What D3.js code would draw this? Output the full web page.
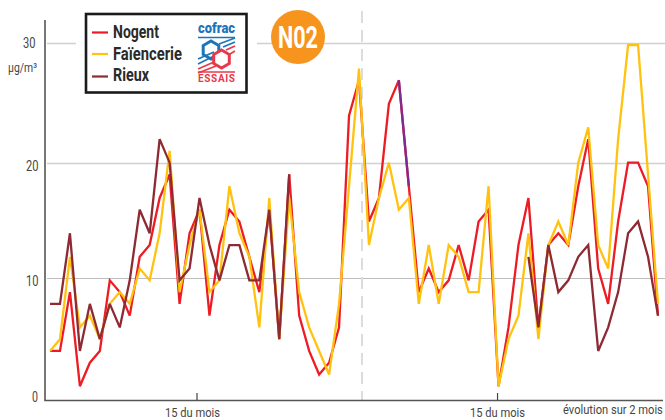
<!DOCTYPE html>
<html>
<head>
<meta charset="utf-8">
<script src="https://cdn.jsdelivr.net/npm/d3@7/dist/d3.min.js"></script>
<style>
html,body{margin:0;padding:0;background:#fff;}
svg{display:block;}
text{font-family:"Roboto","Liberation Sans",sans-serif;}
</style>
</head>
<body>
<svg id="chart" width="665" height="420"></svg>
<script>
const _ = null;
const nogent = [4,4,9,1,3,4,10,9,7,12, 13,17,19,8,14,16,7,13,16,15, 12,9,16,5,19,7,4,2,3,6, 24,27,15,17,25,27,18,9,11,9, 10,13,10,15,16,1,6,13,17,6, 13,14,13,18,22,11,8,15,20,20, 18,7];
const faiencerie = [4,5,12,6,7,5,8,9,8,11, 10,14,21,9,13,16,9,10,18,14, 12,6,17,5,17,9,6,4,2,8, 18,28,13,17,20,16,17,8,13,8, 13,12,9,9,18,1,5,7,14,5, 13,15,13,20,23,13,11,22,30,30, 19,8];
const rieux = [8,8,14,4,8,5,8,6,10,16, 14,22,20,10,11,17,13,10,13,13, 10,10,16,5,19,_,_,_,_,_, _,_,_,_,_,_,_,_,_,_, _,_,_,_,_,_,_,_,12,6, 13,9,10,12,13,4,6,9,14,15, 12,7];
const seriesNames = ["Nogent","Faïencerie","Rieux"];
const yTicks = [0,10,20,30];
const monthTicks = [14.75,44.9];
const monthLabel = "15 du mois";
const monthBreak = 31.3;
const purpleSpan = [35,36];

const RED="#ed1c24", YEL="#ffc20e", DRK="#8e2a33", PUR="#7f2a90", TXT="#454545";
const svg = d3.select("#chart");
const x = d3.scaleLinear().domain([0,61]).range([50,658]);
const y = d3.scaleLinear().domain([0,30]).range([398,45]);
const yRule = d3.scaleLinear().domain(yTicks).range([400.5,278.5,163.5,43.5]);

// condensed type: squeeze real text horizontally to a measured width
function label(str,px,py,w,size,fill,weight){
  const t = svg.append("text").attr("font-size",size).attr("fill",fill).attr("font-weight",weight||400).text(str);
  const n = t.node().getComputedTextLength();
  t.attr("transform",`translate(${px},${py}) scale(${w/n},1)`);
  return t;
}

// grid
yTicks.slice(1).forEach(t=>{
  svg.append("line").attr("x1",47).attr("x2",665).attr("y1",yRule(t)).attr("y2",yRule(t))
    .attr("stroke",t===10?"#bdbdbd":"#d0d0d0").attr("stroke-width",t===10?1.2:1.5);
});

// break
svg.append("line").attr("x1",x(monthBreak)).attr("x2",x(monthBreak)).attr("y1",11).attr("y2",400)
  .attr("stroke","#dcdcdc").attr("stroke-width",2).attr("stroke-dasharray","12,7");

// axes
svg.append("path").attr("d",`M45,20V400.5H663`).attr("fill","none").attr("stroke","#555").attr("stroke-width",1.6);
monthTicks.forEach((t,i)=>{
  svg.append("line").attr("x1",x(t)).attr("x2",x(t)).attr("y1",393).attr("y2",400).attr("stroke","#444").attr("stroke-width",1.2);
  label(monthLabel,[165,470][i],416.5,55,13.5,TXT);
});
label("évolution sur 2 mois",563,414,100,13.5,TXT);

// y labels
const labelX = {0:32,10:26,20:26,30:23};
yTicks.forEach(t=>{
  label(String(t),labelX[t],yRule(t)+(t===0?1.5:t===30?4.5:7),t===0?6:12.5,15,TXT);
});
label("µg/m³",8,72,29,13,TXT);

// lines
const line = d3.line().defined(d=>d.v!==null).x(d=>x(d.i)).y(d=>y(d.v));
const pts = a=>a.map((v,i)=>({i,v}));
[[nogent,RED],[faiencerie,YEL],[rieux,DRK]].forEach(([a,c])=>{
  svg.append("path").attr("d",line(pts(a))).attr("fill","none").attr("stroke",c)
    .attr("stroke-width",2.3).attr("stroke-linejoin","miter").attr("stroke-miterlimit",3);
});
svg.append("path").attr("d",line(pts(nogent).slice(purpleSpan[0],purpleSpan[1]+1)))
  .attr("fill","none").attr("stroke",PUR).attr("stroke-width",2.3);

// legend
svg.append("rect").attr("x",76).attr("y",4).attr("width",181).attr("height",98).attr("fill","#fff");
svg.append("rect").attr("x",86).attr("y",14).attr("width",160.5).attr("height",78.5)
  .attr("fill","#fff").attr("stroke","#1a1a1a").attr("stroke-width",2.6);
const lw=[46,69,36], lineY=[32.5,54,76.5], textY=[38,60,81];
seriesNames.forEach((n,i)=>{
  svg.append("line").attr("x1",92).attr("x2",108).attr("y1",lineY[i]).attr("y2",lineY[i])
    .attr("stroke",[RED,YEL,DRK][i]).attr("stroke-width",2.2);
  label(n,113,textY[i],lw[i],18,"#2a2a2a",700);
});

// logo
const BLUE="#1b75bb", PINK="#e8394a";
label("cofrac",198,33,37,14,BLUE,900);
svg.append("line").attr("x1",198).attr("x2",235).attr("y1",37.5).attr("y2",37.5).attr("stroke",BLUE).attr("stroke-width",1.4);
const hex=(cx,cy,r)=>d3.range(6).map(k=>{const a=Math.PI/3*k+Math.PI/6;return [cx+r*Math.cos(a),cy+r*Math.sin(a)].join(",");}).join(" ");
svg.append("polygon").attr("points",hex(211,50,9)).attr("fill","none").attr("stroke",BLUE).attr("stroke-width",3);
[[198,59,214,52],[198,64,220,53],[219,44,235,38],[223,47,235,42]].forEach(s=>{
  svg.append("line").attr("x1",s[0]).attr("y1",s[1]).attr("x2",s[2]).attr("y2",s[3]).attr("stroke",BLUE).attr("stroke-width",1.7);
});
[[198,69,214,62],[198,73,216,66],[226,50,235,46],[230,54,235,51]].forEach(s=>{
  svg.append("line").attr("x1",s[0]).attr("y1",s[1]).attr("x2",s[2]).attr("y2",s[3]).attr("stroke",PINK).attr("stroke-width",1.7);
});
svg.append("polygon").attr("points",hex(221.5,59,9)).attr("fill","#fff").attr("stroke",PINK).attr("stroke-width",3);
svg.append("line").attr("x1",198).attr("x2",235).attr("y1",72).attr("y2",72).attr("stroke",PINK).attr("stroke-width",1.4);
svg.append("text").attr("x",198).attr("y",82).attr("font-size",10).attr("font-weight",700).attr("fill",PINK)
  .attr("textLength",37).attr("lengthAdjust","spacing").text("ESSAIS");

// badge
svg.append("circle").attr("cx",298).attr("cy",37).attr("r",27).attr("fill","#f7941e");
label("N02",278,47.5,40,31,"#fff",700);
</script>
</body>
</html>
